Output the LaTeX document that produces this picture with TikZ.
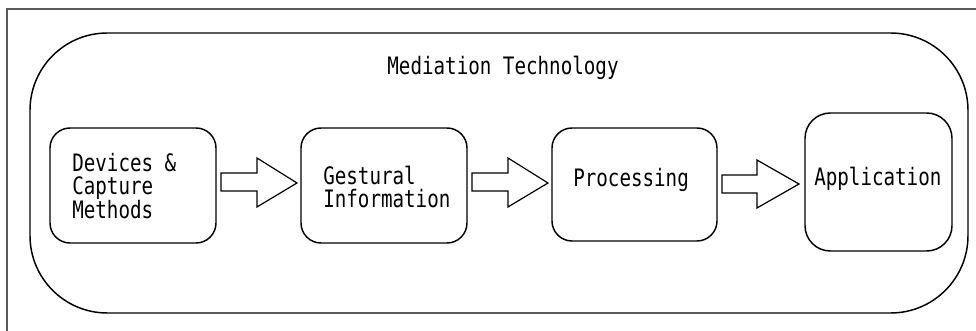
\documentclass[tikz,border=0pt]{standalone}
\usepackage{fontspec}
\newfontfamily\gmono[FakeStretch=0.8]{DejaVu Sans Mono}
\begin{document}
\begin{tikzpicture}[x=0.75pt,y=-0.75pt,
  box/.style={draw=black,line width=1.1pt,rounded corners=15pt},
  lbl/.style={font=\gmono\fontsize{18}{17.8}\selectfont,align=left,inner sep=0pt,anchor=west},
  fatarrow/.style={draw=black,line width=0.9pt,fill=white}]
\useasboundingbox (0,0) rectangle (976,331);
\begin{scope}
\clip (0,0) rectangle (976,331);
\fill[white] (0,0) rectangle (976,331);
\draw[gray!70!black,line width=1.3pt] (7,345) -- (7,9) -- (990,9);
\end{scope}
\draw[black,line width=1.1pt,rounded corners=58pt] (30,33) rectangle (968,313);
\node[font=\gmono\fontsize{18}{17.8}\selectfont,inner sep=0pt] (title) at (503,68) {Mediation Technology};
\draw[box] (50,128) rectangle (216,243);
\draw[box] (301,128) rectangle (467,243);
\draw[box] (552,128) rectangle (717,241);
\draw[box,rounded corners=19pt] (805,113) rectangle (952,251);
\node[lbl] (t1) at (72,186) {Devices \&\\Capture\\Methods};
\node[lbl] (t2) at (323,187) {Gestural\\Information};
\node[lbl] (t3) at (573,180) {Processing};
\node[lbl] (t4) at (814,179) {Application};
\draw[fatarrow] (221,173) -- (257,173) -- (257,158) -- (297,183) -- (257,207) -- (257,191) -- (221,191) -- cycle;
\draw[fatarrow] (472,173) -- (508,173) -- (508,158) -- (548,183) -- (508,207) -- (508,191) -- (472,191) -- cycle;
\draw[fatarrow] (722,175) -- (757,175) -- (757,160) -- (799,184) -- (757,208) -- (757,193) -- (722,193) -- cycle;
\end{tikzpicture}
\end{document}
